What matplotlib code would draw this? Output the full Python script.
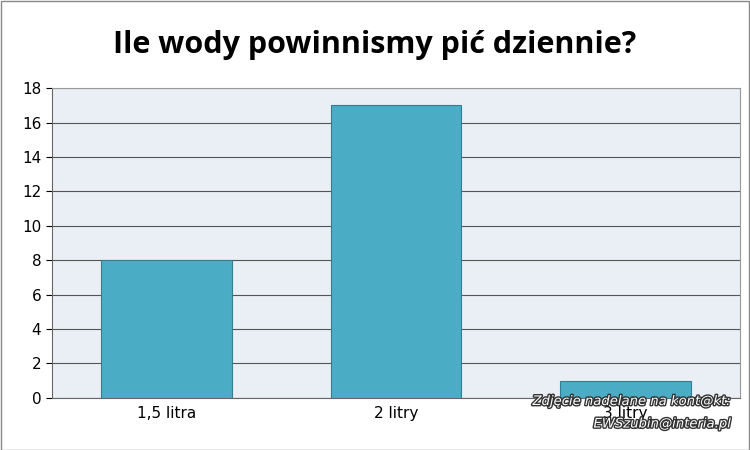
import matplotlib
matplotlib.use("Agg")
import matplotlib.pyplot as plt
import matplotlib.patheffects as pe

categories = ["1,5 litra", "2 litry", "3 litry"]
values = [8, 17, 1]
yticks = [0, 2, 4, 6, 8, 10, 12, 14, 16, 18]

fig = plt.figure(figsize=(7.5, 4.5), dpi=100)
fig.patch.set_facecolor("white")
ax = fig.add_axes([0.069, 0.116, 0.918, 0.688])
ax.set_facecolor("#E9EFF4")
x = range(len(categories))
ax.bar(x, values, width=0.57, color="#4BACC6", edgecolor="#357D90", linewidth=0.8, zorder=3)
ax.set_xlim(-0.5, 2.5)
ax.set_ylim(0, 18)
ax.set_yticks(yticks)
ax.set_xticks(list(x))
ax.set_xticklabels(categories, fontsize=11)
ax.tick_params(axis="y", labelsize=11, length=4)
ax.tick_params(axis="x", length=0, pad=6)
ax.grid(axis="y", color="#555555", linewidth=0.8, zorder=1)
for s in ["top", "right"]:
    ax.spines[s].set_color("#999999")
ax.spines["left"].set_color("#666666")
ax.spines["bottom"].set_color("#666666")
fig.text(0.5, 0.90, "Ile wody powinnismy pić dziennie?", ha="center", va="center",
         fontsize=22, fontweight="bold", family="Open Sans")
fx = [pe.withStroke(linewidth=2, foreground="#333333")]
fig.text(0.975, 0.10, "Zdjęcie nadelane na kont@kt:", ha="right", fontsize=9.5,
         style="italic", color="white", path_effects=fx)
fig.text(0.975, 0.05, "EWSzubin@interia.pl", ha="right", fontsize=9.5,
         style="italic", color="white", path_effects=fx)
fig.add_artist(plt.Rectangle((0.001, 0.001), 0.997, 0.997, transform=fig.transFigure,
                             fill=False, edgecolor="#888888", linewidth=1))
fig.savefig("out.png", dpi=100)
